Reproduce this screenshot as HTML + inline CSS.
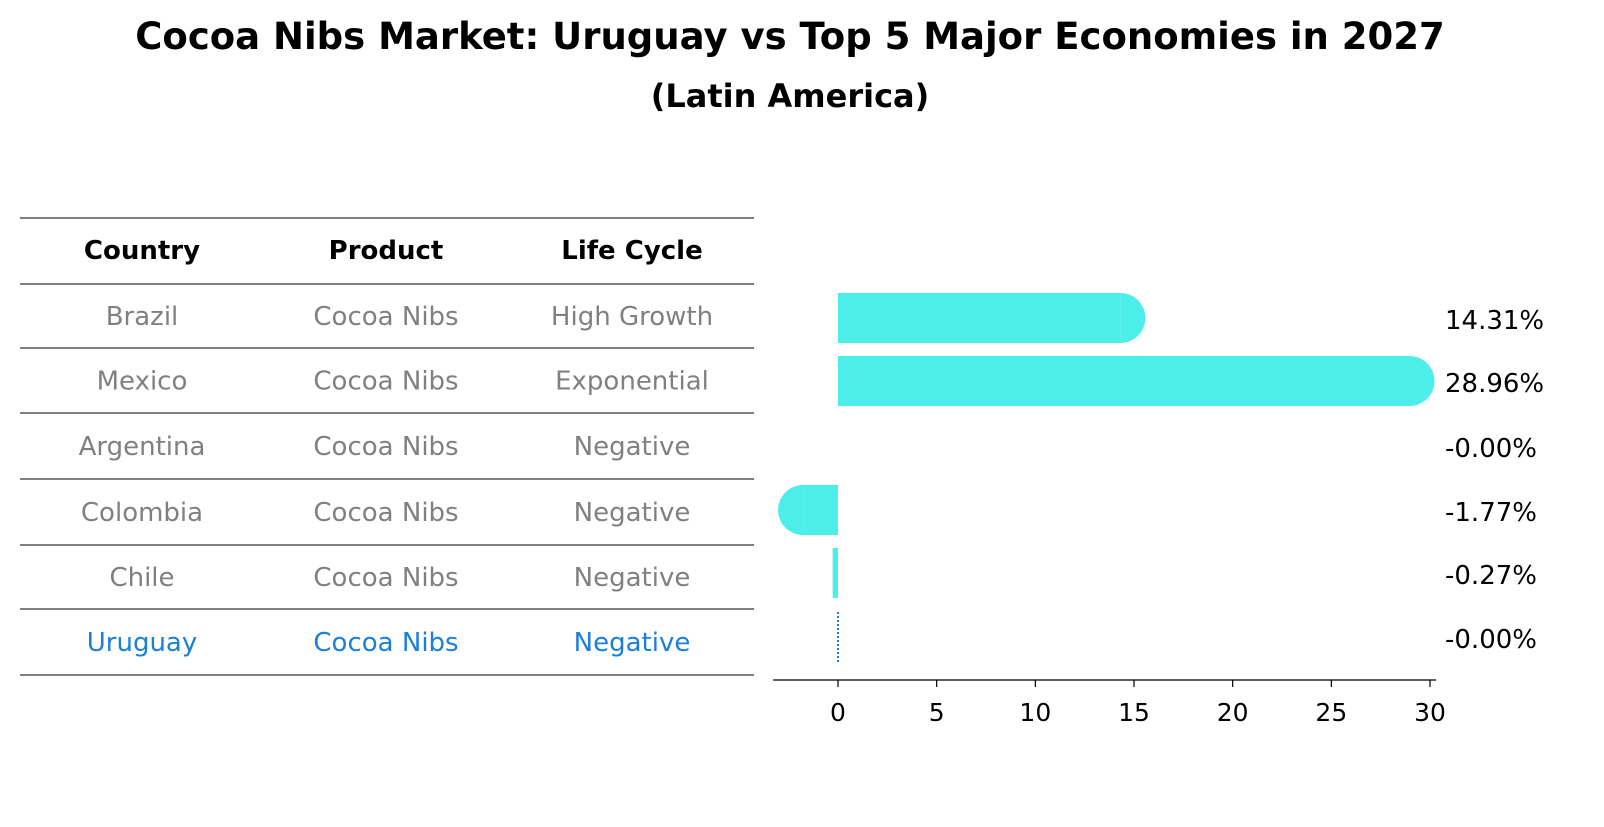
<!DOCTYPE html>
<html><head><meta charset="utf-8">
<style>
body{margin:0;background:#fff;font-family:"DejaVu Sans","Liberation Sans",sans-serif;}
svg text{font-family:"DejaVu Sans","Liberation Sans",sans-serif;}
</style></head>
<body>
<svg id="c" width="1604" height="823" xmlns="http://www.w3.org/2000/svg">
<text x="790" y="49" text-anchor="middle" font-size="37" font-weight="bold">Cocoa Nibs Market: Uruguay vs Top 5 Major Economies in 2027</text>
<text x="790" y="107" text-anchor="middle" font-size="32" font-weight="bold">(Latin America)</text>
<g id="table"></g>
<g id="bars"></g>
</svg>
<script>
const countries=["Brazil","Mexico","Argentina","Colombia","Chile","Uruguay"];
const products=["Cocoa Nibs","Cocoa Nibs","Cocoa Nibs","Cocoa Nibs","Cocoa Nibs","Cocoa Nibs"];
const lifeCycles=["High Growth","Exponential","Negative","Negative","Negative","Negative"];
const values=[14.31,28.96,-0.00,-1.77,-0.27,-0.00];
const valueLabels=["14.31%","28.96%","-0.00%","-1.77%","-0.27%","-0.00%"];
const ticks=[0,5,10,15,20,25,30];
const NS="http://www.w3.org/2000/svg";
function mk(tag,attrs,parent){const e=document.createElementNS(NS,tag);for(const k in attrs)e.setAttribute(k,attrs[k]);parent.appendChild(e);return e;}
const tbl=document.getElementById('table');
const lineYs=[218,284,348,413,479,545,609,675];
lineYs.forEach((y,i)=>{const l=mk('line',{x1:20,x2:754,y1:y,y2:y,stroke:'#000','stroke-width':1},tbl);

});
const colX=[142,386,632];
["Country","Product","Life Cycle"].forEach((h,i)=>{const t=mk('text',{x:colX[i],y:259,'text-anchor':'middle','font-size':26,'font-weight':'bold'},tbl);t.textContent=h;

});
countries.forEach((c,r)=>{const y=(lineYs[r+1]+lineYs[r+2])/2+9;const col=c==="Uruguay"?"#1a80d9":"#808080";
[c,products[r],lifeCycles[r]].forEach((v,i)=>{const t=mk('text',{x:colX[i],y:y,'text-anchor':'middle','font-size':26,fill:col},tbl);t.textContent=v;

});});
const g=document.getElementById('bars');
const x0=838,pxPer=(1430-838)/30;
const xs=v=>x0+v*pxPer;
const rowCenters=[318,381,446,510,573,637];
const H=50,color="#4deeea";
values.forEach((v,i)=>{const cy=rowCenters[i];const len=xs(v)-x0;
if(countries[i]==="Uruguay"){const l=mk('line',{x1:x0,x2:x0,y1:cy-25,y2:cy+25,stroke:'#1a80d9','stroke-width':2,'stroke-dasharray':'2,2'},g);

}
else if(Math.abs(len)>=1){
const x=Math.min(x0,x0+len),w=Math.abs(len);
const r=mk('rect',{x:x,y:cy-H/2,width:w,height:H,fill:color},g);


if(w>=20){const s=len>0?1:-1;const ex=x0+len;
const p=mk('path',{d:`M${ex} ${cy-H/2} A25 25 0 0 ${s>0?1:0} ${ex} ${cy+H/2} Z`,fill:color},g);

}}
const t=mk('text',{x:1445,y:cy+11,'font-size':26},g);t.textContent=valueLabels[i];

});
const ax=mk('line',{x1:773,x2:1436,y1:680,y2:680,stroke:'#000','stroke-width':1.3},g);


ticks.forEach(tv=>{const x=xs(tv);const l=mk('line',{x1:x,x2:x,y1:680,y2:687,stroke:'#000','stroke-width':1.2},g);


const t=mk('text',{x:x,y:721,'text-anchor':'middle','font-size':25},g);t.textContent=tv;

});
</script>
</body></html>
